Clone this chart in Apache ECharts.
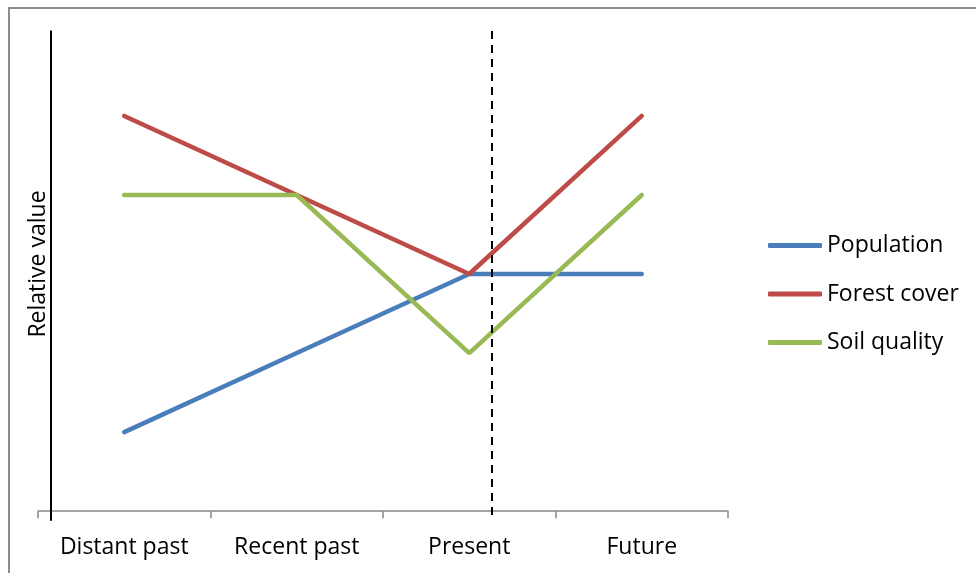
<!DOCTYPE html>
<html>
<head>
<meta charset="utf-8">
<script src="https://cdn.jsdelivr.net/npm/echarts@6/dist/echarts.min.js"></script>
<style>
  html, body { margin: 0; padding: 0; background: #fff; }
  #chart { width: 976px; height: 573px; }
</style>
</head>
<body>
<div id="chart"></div>
<script>
// Time periods along the horizontal axis
const periods = ['Distant past', 'Recent past', 'Present', 'Future'];

// Relative values per period (arbitrary units)
const population = [1, 2, 3, 3];
const forestCover = [5, 4, 3, 5];
const soilQuality = [4, 4, 2, 4];

// Vertical reference lines on the continuous x scale (category index units)
const valueAxisLine = -0.425;
const presentLine = 2.13;

const FONT = '"Open Sans"';
const FONT_SIZE = 23;

const chart = echarts.init(document.getElementById('chart'));

chart.setOption({
  animation: false,
  backgroundColor: '#ffffff',
  graphic: [{
    type: 'rect',
    shape: { x: 9, y: 8, width: 1000, height: 600 },
    style: { fill: 'none', stroke: '#8c8c8c', lineWidth: 2 },
    silent: true
  }],
  grid: { left: 38, right: 248, top: 29, bottom: 50 },
  legend: {
    orient: 'vertical',
    left: 768,
    top: 234,
    padding: 0,
    itemWidth: 54,
    itemHeight: 5,
    itemGap: 25.5,
    icon: 'roundRect',
    textStyle: { fontFamily: FONT, fontSize: FONT_SIZE, color: '#000', padding: [0, 0, 0, 0] },
    data: ['Population', 'Forest cover', 'Soil quality']
  },
  xAxis: [{
    type: 'category',
    data: periods,
    boundaryGap: true,
    axisLine: { onZero: true, lineStyle: { color: '#868686', width: 1.5 } },
    axisTick: { show: true, length: 7, inside: false, lineStyle: { color: '#868686', width: 1.5 } },
    axisLabel: { fontFamily: FONT, fontSize: FONT_SIZE, color: '#000', margin: 13 },
    splitLine: { show: false }
  }, {
    type: 'value',
    min: -0.5,
    max: 3.5,
    show: false
  }],
  yAxis: {
    type: 'value',
    min: -0.15,
    max: 6.1,
    axisLine: { show: false },
    axisTick: { show: false },
    axisLabel: { show: false },
    splitLine: { show: false },
    name: 'Relative value',
    nameLocation: 'middle',
    nameGap: -12,
    nameTextStyle: { fontFamily: FONT, fontSize: FONT_SIZE, color: '#000', padding: [0, 0, 0, 24] }
  },
  series: [
    {
      name: 'Population', type: 'line', data: population,
      symbol: 'none', lineStyle: { width: 4.5, color: '#4A7EBB', cap: 'round' },
      itemStyle: { color: '#4A7EBB' }
    },
    {
      name: 'Forest cover', type: 'line', data: forestCover,
      symbol: 'none', lineStyle: { width: 4.5, color: '#BE4B48', cap: 'round' },
      itemStyle: { color: '#BE4B48' }
    },
    {
      name: 'Soil quality', type: 'line', data: soilQuality,
      symbol: 'none', lineStyle: { width: 4.5, color: '#98B954', cap: 'round' },
      itemStyle: { color: '#98B954' }
    },
    {
      name: 'guides', type: 'line', xAxisIndex: 1, data: [],
      clip: false, silent: true,
      markLine: {
        silent: true,
        symbol: ['none', 'none'],
        label: { show: false },
        animation: false,
        data: [
          [
            { coord: [valueAxisLine, -0.12], lineStyle: { color: '#000', width: 2, type: 'solid' } },
            { coord: [valueAxisLine, 6.08] }
          ],
          [
            { coord: [presentLine, -0.05], lineStyle: { color: '#000', width: 2, type: [8, 6] } },
            { coord: [presentLine, 6.08] }
          ]
        ]
      }
    }
  ]
});
</script>
</body>
</html>
